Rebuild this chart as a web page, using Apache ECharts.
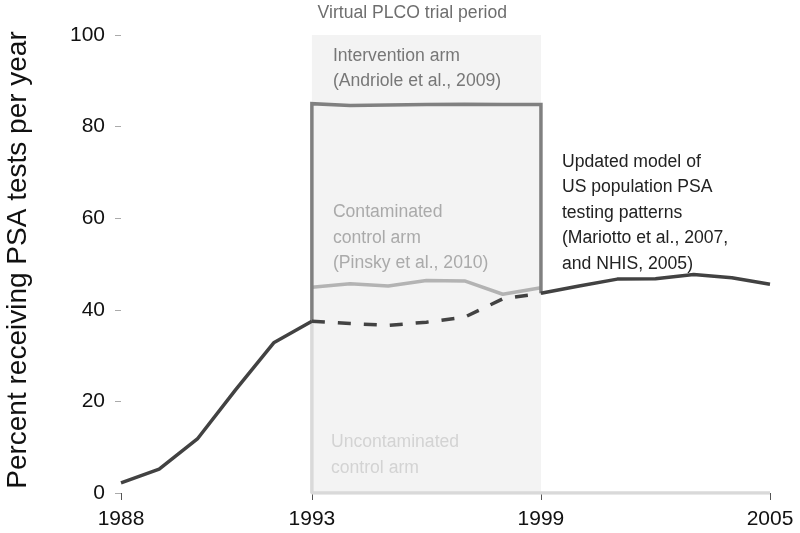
<!DOCTYPE html>
<html>
<head>
<meta charset="utf-8">
<script src="https://cdn.jsdelivr.net/npm/echarts@6/dist/echarts.min.js"></script>
<style>
html,body{margin:0;padding:0;background:#fff;}
#c{width:800px;height:533px;}
</style>
</head>
<body>
<div id="c"></div>
<script>
// ---- data ----
var xTickValues = [1988, 1993, 1999, 2005];
var popYearsPre = [1988, 1989, 1990, 1991, 1992, 1993];
var popPre = [2.2, 5.2, 11.8, 22.5, 32.8, 37.5];
var popYearsTrial = [1993, 1994, 1995, 1996, 1997, 1998, 1999];
var popTrial = [37.5, 37.0, 36.6, 37.3, 38.4, 42.4, 43.6];
var popYearsPost = [1999, 2000, 2001, 2002, 2003, 2004, 2005];
var popPost = [43.6, 45.2, 46.7, 46.8, 47.7, 47.0, 45.6];
var contamYears = [1993, 1994, 1995, 1996, 1997, 1998, 1999];
var contamValues = [44.9, 45.7, 45.2, 46.4, 46.3, 43.4, 44.8];
var interYears = [1993, 1993, 1994, 1995, 1996, 1997, 1998, 1999, 1999];
var interValues = [37.5, 85, 84.6, 84.7, 84.8, 84.9, 84.8, 84.8, 43.6];
var uncontYears = [1993, 1993, 1999, 2005];
var uncontValues = [37.5, 0, 0, 0];
var trialStart = 1993, trialEnd = 1999;

function pairs(xs, ys) { return xs.map(function (x, i) { return [x, ys[i]]; }); }

var FONT = "'Liberation Sans', Arial, Helvetica, sans-serif";
var chart = echarts.init(document.getElementById('c'), null, {renderer: 'canvas'});

var option = {
  animation: false,
  textStyle: {fontFamily: FONT},
  grid: {left: 121, right: 30, top: 35, bottom: 40},
  xAxis: {
    type: 'value', min: 1988, max: 2005,
    axisLine: {show: false},
    splitLine: {show: false},
    axisTick: {show: true, customValues: xTickValues, length: 7, lineStyle: {color: '#555', width: 1}},
    axisLabel: {customValues: xTickValues, fontSize: 21, color: '#111', margin: 16, fontFamily: FONT,
      formatter: function (v) { return String(v); }}
  },
  yAxis: {
    type: 'value', min: 0, max: 100, interval: 20,
    axisLine: {show: false},
    splitLine: {show: false},
    axisTick: {show: true, length: 6, lineStyle: {color: '#aaa', width: 1}},
    axisLabel: {fontSize: 21, color: '#111', margin: 16, fontFamily: FONT}
  },
  series: [
    {
      type: 'line', name: 'Uncontaminated control arm', data: pairs(uncontYears, uncontValues),
      symbol: 'none', z: 1,
      lineStyle: {color: '#d9d9d9', width: 3.5},
      markArea: {
        silent: true,
        itemStyle: {color: '#f3f3f3'},
        data: [[{xAxis: trialStart, yAxis: 0}, {xAxis: trialEnd, yAxis: 100}]]
      }
    },
    {
      type: 'line', name: 'Contaminated control arm', data: pairs(contamYears, contamValues),
      symbol: 'none', z: 2,
      lineStyle: {color: '#b3b3b3', width: 3.5}
    },
    {
      type: 'line', name: 'Intervention arm', data: pairs(interYears, interValues),
      symbol: 'none', z: 3,
      lineStyle: {color: '#808080', width: 3.5, join: 'miter'}
    },
    {
      type: 'line', name: 'US population pre', data: pairs(popYearsPre, popPre),
      symbol: 'none', z: 4,
      lineStyle: {color: '#424242', width: 3.5}
    },
    {
      type: 'line', name: 'US population trial', data: pairs(popYearsTrial, popTrial),
      symbol: 'none', z: 4,
      lineStyle: {color: '#424242', width: 3.5, type: [13, 13]}
    },
    {
      type: 'line', name: 'US population post', data: pairs(popYearsPost, popPost),
      symbol: 'none', z: 4,
      lineStyle: {color: '#424242', width: 3.5}
    }
  ]
};
chart.setOption(option);

function px(x, y) { return chart.convertToPixel({gridIndex: 0}, [x, y]); }
function txt(x, y, s, color) {
  var p = px(x, y);
  return {type: 'text', x: p[0], y: p[1], z: 100,
    style: {text: s, fill: color, font: '17.6px ' + FONT, lineHeight: 25.5, textAlign: 'left', textVerticalAlign: 'top'}};
}
chart.setOption({
  graphic: [
    txt(1993.15, 107.6, 'Virtual PLCO trial period', '#6e6e6e'),
    txt(1993.55, 98.2, 'Intervention arm\n(Andriole et al., 2009)', '#777'),
    txt(1993.55, 64.0, 'Contaminated\ncontrol arm\n(Pinsky et al., 2010)', '#aaa'),
    txt(1993.5, 13.8, 'Uncontaminated\ncontrol arm', '#d3d3d3'),
    txt(1999.55, 75.1, 'Updated model of\nUS population PSA\ntesting patterns\n(Mariotto et al., 2007,\nand NHIS, 2005)', '#222'),
    {type: 'text', x: 18, y: 260, rotation: Math.PI / 2, z: 100,
      style: {text: 'Percent receiving PSA tests per year', fill: '#111', font: '28px ' + FONT,
        textAlign: 'center', textVerticalAlign: 'middle'}}
  ]
});
</script>
</body>
</html>
